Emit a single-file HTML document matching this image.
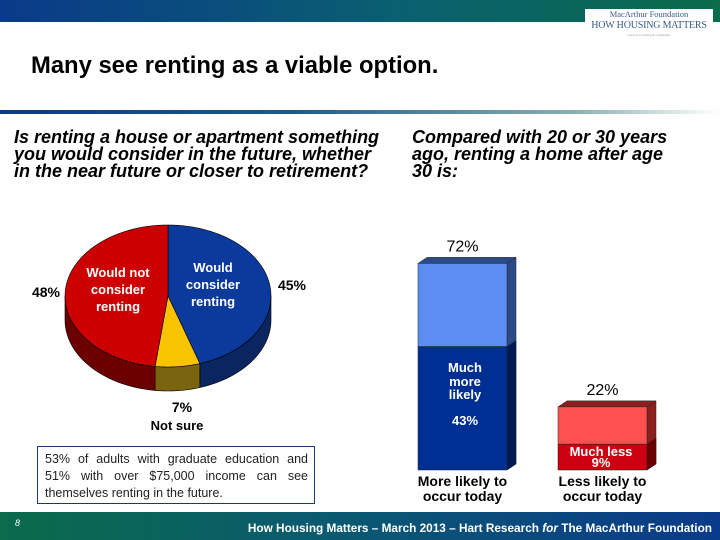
<!DOCTYPE html>
<html><head><meta charset="utf-8"><style>
body{margin:0;width:720px;height:540px;overflow:hidden;background:#fff;font-family:"Liberation Sans",Arial,sans-serif;position:relative}
.abs{position:absolute}
.q{font-weight:bold;font-style:italic;font-size:18px;line-height:17px;color:#000;white-space:nowrap}
</style></head><body>
<div class="abs" style="left:0;top:0;width:720px;height:22px;background:linear-gradient(90deg,#0a3a8a,#0a5f70 55%,#0b6b4a)"></div>
<div class="abs" style="left:585px;top:9px;width:128px;height:34px;background:#fff;text-align:center;font-family:'Liberation Serif',serif;color:#3a5a8a;white-space:nowrap;overflow:hidden">
<div style="font-size:8.5px;line-height:11px">MacArthur Foundation</div>
<div style="font-size:10px;line-height:12px;letter-spacing:-0.2px">HOW HOUSING MATTERS</div>
<div style="font-size:3px;line-height:6px;color:#999">research on housing &amp; communities</div></div>
<div class="abs" style="left:31px;top:52px;font-size:23.8px;font-weight:bold;color:#000;white-space:nowrap">Many see renting as a viable option.</div>
<div class="abs" style="left:0;top:110px;width:720px;height:4px;background:linear-gradient(90deg,#0a3a8a,#1a5a8a 40%,#8ab0b0 80%,#fff)"></div>
<div class="abs q" style="left:14px;top:129px;">Is renting a house or apartment something<br>you would consider in the future, whether<br>in the near future or closer to retirement?</div>
<div class="abs q" style="left:412px;top:129px;">Compared with 20 or 30 years<br>ago, renting a home after age<br>30 is:</div>

<svg class="abs" style="left:0;top:0" width="720" height="540" id="chart"></svg>

<div class="abs" style="left:37px;top:446px;width:278px;height:58px;border:1px solid #1a3a6a;padding:4px 6px 0 7px;font-size:12.5px;line-height:17px;color:#222;text-align:justify;box-sizing:border-box">53% of adults with graduate education and 51% with over $75,000 income can see themselves renting in the future.</div>
<div class="abs" style="left:0;top:512px;width:720px;height:28px;background:linear-gradient(90deg,#0b6b4a,#0a5a70 45%,#0a3a8a)"></div>
<div class="abs" style="left:15px;top:518px;font-size:9px;font-style:italic;color:#fff">8</div>
<div class="abs" style="right:8px;top:521px;font-size:11.8px;font-weight:bold;color:#fff;white-space:nowrap">How Housing Matters – March 2013 – Hart Research <i>for</i> The MacArthur Foundation</div>
<script>
const pieLabels=["Would consider renting","Not sure","Would not consider renting"];
const pieValues=[45,7,48];
const barCategories=["More likely to occur today","Less likely to occur today"];
const barTotals=[72,22];
const barStrong=[43,9];
const barStrongLabels=["Much more likely","Much less"];

const svg=document.getElementById('chart');const NS='http://www.w3.org/2000/svg';
function mk(t,a,txt){const e=document.createElementNS(NS,t);for(const k in a)e.setAttribute(k,a[k]);if(txt!=null)e.textContent=txt;svg.appendChild(e);return e;}
const cx=168,cy=296,rx=103,ry=71,dep=24;
const topCol=["#0b3a9c","#f8c400","#cc0000"],sideCol=["#0a2560","#7a6410","#6a0000"];
function pt(f,dy){const a=f*2*Math.PI;return [cx+rx*Math.sin(a),cy-ry*Math.cos(a)+(dy||0)];}
const tot=pieValues.reduce((a,b)=>a+b,0);
let acc=0;const segs=pieValues.map(v=>{const s=acc/tot;acc+=v;return [s,acc/tot];});
segs.forEach((sg,i)=>{const s=Math.max(sg[0],0.25),e=Math.min(sg[1],0.75);if(e<=s)return;
 let d='';const n=30;for(let k=0;k<=n;k++){const p=pt(s+(e-s)*k/n);d+=(k?'L':'M')+p[0]+' '+p[1];}
 for(let k=n;k>=0;k--){const p=pt(s+(e-s)*k/n,dep);d+='L'+p[0]+' '+p[1];}
 const el=mk('path',{d:d+'Z',fill:sideCol[i],stroke:'#000','stroke-width':0.6});
 
 });
segs.forEach((sg,i)=>{const n=60;let d='M'+cx+' '+cy;for(let k=0;k<=n;k++){const p=pt(sg[0]+(sg[1]-sg[0])*k/n);d+='L'+p[0]+' '+p[1];}
 const el=mk('path',{d:d+'Z',fill:topCol[i],stroke:'#000','stroke-width':0.6});
 
 });
const T=(x,y,t,o)=>{const e=mk('text',Object.assign({x:x,y:y,'text-anchor':'middle','font-size':13,'font-weight':'bold','font-family':'Liberation Sans, Arial, sans-serif'},o||{}),t);return e;};
let l;
l=T(213,272,"Would",{fill:'#fff'});
T(213,289,"consider",{fill:'#fff'});T(213,306,"renting",{fill:'#fff'});
l=T(118,277,"Would not",{fill:'#fff'});
T(118,294,"consider",{fill:'#fff'});T(118,311,"renting",{fill:'#fff'});
l=T(292,290,pieValues[0]+"%",{'font-size':14});
l=T(46,297,pieValues[2]+"%",{'font-size':14});
l=T(182,412,pieValues[1]+"%",{'font-size':14});
T(177,430,"Not sure");
const base=470,sc=2.87,bw=89,dx=9,dy=6;const bx=[418,558];
const fr=[["#5b8ef0","#002f94"],["#ff5050","#cc0010"]],sd=[["#2a4a8a","#001a55"],["#8a2020","#6a0000"]];
const y=v=>base-v*sc;
barTotals.forEach((v,i)=>{const x=bx[i],yt=y(v),ys=y(barStrong[i]);
 let e=mk('polygon',{points:`${x+bw},${yt} ${x+bw+dx},${yt-dy} ${x+bw+dx},${base-dy} ${x+bw},${base}`,fill:sd[i][0],stroke:'#222','stroke-width':0.5});
 
 e=mk('polygon',{points:`${x+bw},${ys} ${x+bw+dx},${ys-dy} ${x+bw+dx},${base-dy} ${x+bw},${base}`,fill:sd[i][1],stroke:'#222','stroke-width':0.5});
 e=mk('polygon',{points:`${x},${yt} ${x+dx},${yt-dy} ${x+bw+dx},${yt-dy} ${x+bw},${yt}`,fill:sd[i][0],stroke:'#222','stroke-width':0.5});
 
 e=mk('rect',{x:x,y:yt,width:bw,height:ys-yt,fill:fr[i][0],stroke:'#222','stroke-width':0.5});
 
 e=mk('rect',{x:x,y:ys,width:bw,height:base-ys,fill:fr[i][1],stroke:'#222','stroke-width':0.5});
 
 e=T(x+bw/2,yt-12,v+"%",{'font-size':16,'font-weight':'normal'});
 
 const c=barCategories[i].split(" to ");
 e=T(x+bw/2,base+16,c[0]+" to",{'font-size':14});
 T(x+bw/2,base+31,c[1],{'font-size':14});
});
l=T(465,372,"Much",{fill:'#fff'});
T(465,386,"more",{fill:'#fff'});T(465,399,"likely",{fill:'#fff'});
T(465,425,barStrong[0]+"%",{fill:'#fff'});
l=T(601,456,barStrongLabels[1],{fill:'#fff'});
T(601,467,barStrong[1]+"%",{fill:'#fff'});
</script>
</body></html>
